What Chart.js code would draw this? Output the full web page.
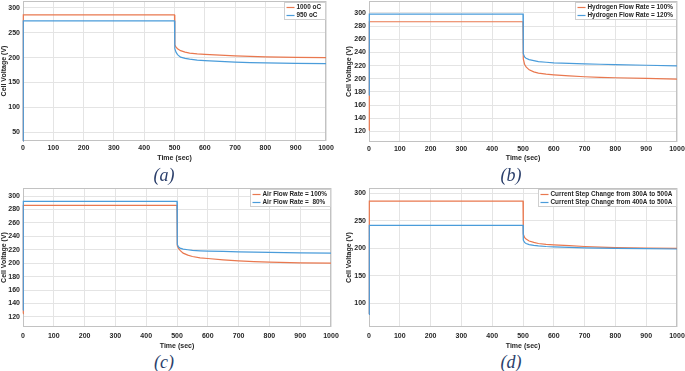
<!DOCTYPE html>
<html>
<head>
<meta charset="utf-8">
<script src="https://cdn.jsdelivr.net/npm/chart.js@4.4.1/dist/chart.umd.min.js"></script>
<style>
  body { margin: 0; background: #fff; width: 685px; height: 371px; position: relative; overflow: hidden; }
  .panel { position: absolute; }
  .cap { position: absolute; font-family: "Liberation Serif", serif; font-style: italic; font-size: 18px; color: #2b3f6b; transform: translate(-50%, -50%); }
</style>
</head>
<body>
<div class="panel" style="left:0;top:0;width:340px;height:162px"><canvas id="chartA"></canvas></div>
<div class="panel" style="left:345px;top:0;width:340px;height:162px"><canvas id="chartB"></canvas></div>
<div class="panel" style="left:0;top:185px;width:340px;height:165px"><canvas id="chartC"></canvas></div>
<div class="panel" style="left:345px;top:185px;width:340px;height:165px"><canvas id="chartD"></canvas></div>
<div class="cap" style="left:164px;top:175px">(a)</div>
<div class="cap" style="left:511px;top:175px">(b)</div>
<div class="cap" style="left:164px;top:362px">(c)</div>
<div class="cap" style="left:511px;top:362px">(d)</div>
<script>
// time samples (sec), shared by all panels
const timeSec = [0, 1, 500, 501, 505, 510, 520, 535, 550, 575, 600, 650, 700, 750, 800, 900, 1000]
const xTicks = [0, 100, 200, 300, 400, 500, 600, 700, 800, 900, 1000]

// (a) temperature
const tempLabels = ['1000 oC', '950 oC']
const temp1000 = [32, 286, 286, 226, 221, 218, 214, 211, 209, 207.5, 206.5, 205, 203.5, 202.5, 201.5, 200.5, 200]
const temp950 = [32, 274, 274, 218, 211, 206, 201, 198.5, 197, 195, 194, 192.5, 191, 190, 189.5, 188.5, 188]

// (b) hydrogen flow
const h2Labels = ['Hydrogen Flow Rate = 100%', 'Hydrogen Flow Rate = 120%']
const h2Rate100 = [122, 286.5, 286.5, 230, 222, 218, 213.5, 210.5, 208.5, 207, 206, 204.5, 203, 202, 201.5, 200.5, 199.5]
const h2Rate120 = [175, 298, 298, 238, 233, 231, 229, 227.5, 226, 225, 224, 223.2, 222.5, 222, 221.5, 220.5, 219.5]

// (c) air flow
const airLabels = ['Air Flow Rate = 100%', 'Air Flow Rate =  80%']
const airRate100 = [125, 286, 286, 226, 222, 219, 215, 212, 210, 208, 207, 205, 203.5, 202.5, 201.5, 200.5, 200]
const airRate80 = [130, 292, 292, 228, 224, 222.5, 221, 220, 219, 218.5, 218, 217.5, 217, 216.5, 216, 215.5, 215]

// (d) current step
const stepLabels = ['Current Step Change from 300A to 500A', 'Current Step Change from 400A to 500A']
const step300 = [80, 286, 286, 226, 220, 217, 213.5, 211, 209, 207.5, 206.5, 205, 203.5, 202.5, 201.5, 200.5, 200]
const step400 = [80, 242, 242, 215, 211, 209, 207, 205.5, 204.5, 203.5, 203, 202, 201, 200.5, 200, 199.5, 199]

const ORANGE = '#e9784f'
const BLUE = '#4a9cda'
const FONT = { family: '"Liberation Sans", Arial, sans-serif', size: 7, weight: 'bold' }

Chart.defaults.font.family = FONT.family
Chart.defaults.animation = false

// frame around plot (under the lines) + legend box inside top right corner (like matlab)
const boxLegend = {
    id: 'boxLegend',
    beforeDatasetsDraw(chart) {
        const ctx = chart.ctx
        const a = chart.chartArea
        ctx.save()
        ctx.strokeStyle = '#c2c2c2'
        ctx.lineWidth = 1
        ctx.strokeRect(a.left + 0.5, a.top + 0.5, a.width - 1, a.height - 1)
        ctx.restore()
    },
    afterDraw(chart) {
        const ctx = chart.ctx
        const a = chart.chartArea
        ctx.save()
        ctx.font = 'bold 6.4px ' + FONT.family
        const sets = chart.data.datasets
        const textW = Math.max(...sets.map(d => ctx.measureText(d.label).width))
        const w = Math.round(textW + 16)
        const h = 17
        const x = Math.round(a.right - w - 1) + 0.5
        const y = Math.round(a.top + 1) + 0.5
        ctx.fillStyle = '#fff'
        ctx.fillRect(x, y, w, h)
        ctx.strokeStyle = '#cfcfcf'
        ctx.lineWidth = 1
        ctx.strokeRect(x, y, w, h)
        sets.forEach((d, i) => {
            const ry = y + 5 + i * 8
            ctx.strokeStyle = d.borderColor
            ctx.lineWidth = 1.2
            ctx.beginPath()
            ctx.moveTo(x + 2, ry)
            ctx.lineTo(x + 10, ry)
            ctx.stroke()
            ctx.fillStyle = '#262626'
            ctx.textBaseline = 'middle'
            ctx.fillText(d.label, x + 12, ry)
        })
        ctx.restore()
    }
}

function makePanel(id, labels, s1, s2, yMin, yMax, yStep, box) {
    const toPts = arr => arr.map((v, i) => ({ x: timeSec[i], y: v }))
    return new Chart(document.getElementById(id), {
        type: 'line',
        data: {
            datasets: [
                { label: labels[0], data: toPts(s1), borderColor: ORANGE, borderWidth: 1.2, pointRadius: 0, order: 1, clip: false },
                { label: labels[1], data: toPts(s2), borderColor: BLUE, borderWidth: 1.2, pointRadius: 0, order: 0, clip: false }
            ]
        },
        options: {
            responsive: true,
            maintainAspectRatio: false,
            layout: { padding: { top: box.top, right: box.right, left: 0, bottom: 0 } },
            plugins: { legend: { display: false }, tooltip: { enabled: false } },
            scales: {
                x: {
                    type: 'linear', min: 0, max: 1000,
                    afterFit: s => { s.height = box.xh; s.paddingLeft = 0; s.paddingRight = 0 },
                    afterBuildTicks: s => { s.ticks = xTicks.map(v => ({ value: v })) },
                    grid: { color: '#e4e4e4', drawTicks: false },
                    border: { display: false },
                    ticks: { font: FONT, color: '#262626', padding: box.xpad, maxRotation: 0, autoSkip: false, callback: v => String(v) },
                    title: { display: true, text: 'Time (sec)', font: FONT, color: '#262626', padding: 0 }
                },
                y: {
                    min: yMin, max: yMax,
                    afterFit: s => { s.width = box.yw; s.paddingTop = 0; s.paddingBottom = 0 },
                    grid: { color: '#e4e4e4', drawTicks: false },
                    border: { display: false },
                    ticks: { stepSize: yStep, includeBounds: false, font: FONT, color: '#262626', padding: 3 },
                    title: { display: true, text: 'Cell Voltage (V)', font: FONT, color: '#262626', padding: 0 }
                }
            }
        },
        plugins: [boxLegend]
    })
}

makePanel('chartA', tempLabels, temp1000, temp950, 32, 314, 50, { top: 1, right: 14, xh: 21, yw: 23, xpad: 3 })
makePanel('chartB', h2Labels, h2Rate100, h2Rate120, 104, 318, 20, { top: 1, right: 8, xh: 20, yw: 24, xpad: 3 })
makePanel('chartC', airLabels, airRate100, airRate80, 105, 312, 20, { top: 3, right: 9, xh: 23, yw: 23, xpad: 5 })
makePanel('chartD', stepLabels, step300, step400, 57, 310, 50, { top: 3, right: 8, xh: 23, yw: 24, xpad: 5 })
</script>
</body>
</html>
